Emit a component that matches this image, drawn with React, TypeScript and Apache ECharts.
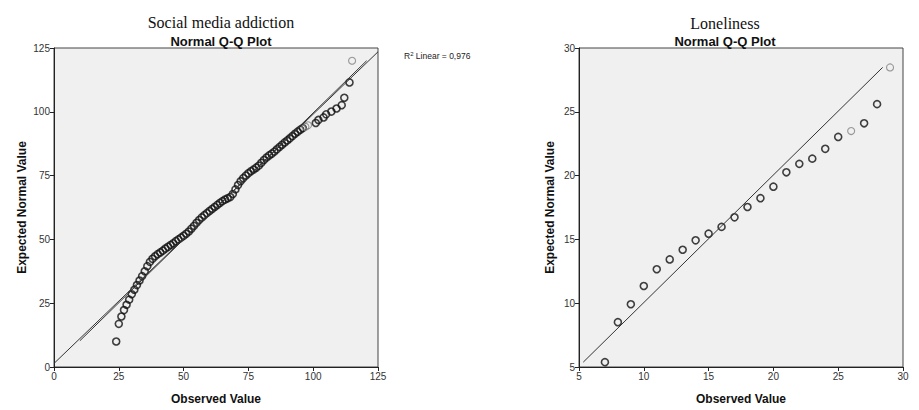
import React, { useEffect, useRef } from "react";
import * as echarts from "echarts";

// Social media addiction: observed values and expected normal values
const smaObserved = [24, 25, 26, 27, 28, 29, 30, 31, 32, 33, 34, 35, 36, 37, 38, 39, 40, 41, 42, 43, 44, 45, 46, 47, 48, 49, 50, 51, 52, 53, 54, 55, 56, 57, 58, 59, 60, 61, 62, 63, 64, 65, 66, 67, 68, 69, 70, 71, 72, 73, 74, 75, 76, 77, 78, 79, 80, 81, 82, 83, 84, 85, 86, 87, 88, 89, 90, 91, 92, 93, 94, 95, 96, 97, 98, 101, 102, 104, 105, 107, 109, 111, 112, 114, 115];
const smaExpected = [10.0, 16.9, 19.8, 22.3, 24.4, 26.4, 28.5, 30.3, 32.1, 33.9, 35.6, 37.5, 39.5, 41.2, 42.4, 43.4, 44.2, 44.9, 45.6, 46.4, 47.1, 47.8, 48.5, 49.3, 50.0, 50.7, 51.4, 52.2, 53.1, 54.2, 55.3, 56.5, 57.6, 58.6, 59.5, 60.3, 61.1, 61.9, 62.7, 63.5, 64.3, 65.0, 65.6, 66.1, 66.6, 67.8, 69.6, 71.3, 72.8, 74.0, 75.0, 75.9, 76.7, 77.4, 78.1, 78.9, 80.0, 81.1, 82.1, 82.9, 83.6, 84.4, 85.3, 86.2, 87.1, 88.0, 88.8, 89.6, 90.5, 91.4, 92.2, 93.0, 93.6, 94.1, 94.7, 95.6, 96.8, 97.8, 99.0, 100.1, 101.3, 102.6, 105.5, 111.5, 120.0];
const smaLightObserved = [97, 98, 115];
const smaRefLineX = [10, 120.6];
const smaRefLineY = [10.3, 120.0];
const smaFitLineX = [0, 125];
const smaFitLineY = [1.4, 123.5];

// Loneliness
const lonObserved = [7, 8, 9, 10, 11, 12, 13, 14, 15, 16, 17, 18, 19, 20, 21, 22, 23, 24, 25, 26, 27, 28, 29];
const lonExpected = [5.38, 8.51, 9.92, 11.35, 12.66, 13.43, 14.19, 14.93, 15.45, 15.98, 16.73, 17.54, 18.23, 19.13, 20.26, 20.92, 21.33, 22.1, 23.03, 23.49, 24.1, 25.6, 28.48];
const lonLightObserved = [26, 29];
const lonRefLineX = [5.33, 28.43];
const lonRefLineY = [5.38, 28.48];

const smaTicks = { min: 0, max: 125, interval: 25 };
const lonTicks = { min: 5, max: 30, interval: 5 };

const FONT = "Liberation Sans, Arial, sans-serif";

function points(xs: number[], ys: number[], light: number[]) {
  return xs.map((x, i) => ({
    value: [x, ys[i]],
    itemStyle: {
      color: "rgba(0,0,0,0)",
      borderColor: light.includes(x) ? "#808080" : "#111",
      borderWidth: light.includes(x) ? 1.1 : 1.6,
    },
  }));
}

function lineData(xs: number[], ys: number[]) {
  return xs.map((x, i) => [x, ys[i]]);
}

export default function App() {
  const ref = useRef<HTMLDivElement>(null);
  useEffect(() => {
    if (!ref.current) return;
    const chart = echarts.init(ref.current, undefined, { renderer: "svg" });
    const axisCommon = {
      type: "value" as const,
      nameLocation: "middle" as const,
      nameTextStyle: { fontFamily: FONT, fontWeight: "bold" as const, fontSize: 12, color: "#111" },
      axisLine: { show: true, lineStyle: { color: "#222", width: 1 } },
      axisTick: { show: true, inside: false, length: 4, lineStyle: { color: "#222" } },
      axisLabel: { fontFamily: FONT, fontSize: 10, color: "#333", margin: 4 },
      splitLine: { show: false },
    };
    chart.setOption({
      animation: false,
      backgroundColor: "#fff",
      title: [
        { text: "Social media addiction", left: 216, top: 9, textAlign: "center", textStyle: { fontFamily: "Liberation Serif, Times New Roman, serif", fontWeight: "normal", fontSize: 16, color: "#111" } },
        { text: "Normal Q-Q Plot", left: 216, top: 30, textAlign: "center", textStyle: { fontFamily: FONT, fontWeight: "bold", fontSize: 13, color: "#111" } },
        { text: "Loneliness", left: 720, top: 10, textAlign: "center", textStyle: { fontFamily: "Liberation Serif, Times New Roman, serif", fontWeight: "normal", fontSize: 16, color: "#111" } },
        { text: "Normal Q-Q Plot", left: 720, top: 30, textAlign: "center", textStyle: { fontFamily: FONT, fontWeight: "bold", fontSize: 13, color: "#111" } },
      ],
      graphic: [
        {
          type: "text",
          left: 404,
          top: 51,
          style: {
            text: "{a|R}{s|2}{a| Linear = 0,976}",
            rich: {
              a: { fontFamily: FONT, fontSize: 8.5, fill: "#222" },
              s: { fontFamily: FONT, fontSize: 6, fill: "#222", verticalAlign: "top", padding: [0, 0, 4, 0] },
            },
          },
        },
      ],
      grid: [
        { left: 54, top: 48, width: 324, height: 325, show: true, backgroundColor: "#f0f0f0", borderColor: "#444", borderWidth: 1 },
        { left: 579, top: 48, width: 324, height: 325, show: true, backgroundColor: "#f0f0f0", borderColor: "#444", borderWidth: 1 },
      ],
      xAxis: [
        { ...axisCommon, gridIndex: 0, ...smaTicks, name: "Observed Value", nameGap: 26 },
        { ...axisCommon, gridIndex: 1, ...lonTicks, name: "Observed Value", nameGap: 26 },
      ],
      yAxis: [
        { ...axisCommon, gridIndex: 0, ...smaTicks, name: "Expected Normal Value", nameGap: 26 },
        { ...axisCommon, gridIndex: 1, ...lonTicks, name: "Expected Normal Value", nameGap: 23 },
      ],
      series: [
        { type: "line", xAxisIndex: 0, yAxisIndex: 0, data: lineData(smaFitLineX, smaFitLineY), symbol: "none", lineStyle: { color: "#333", width: 1 }, silent: true },
        { type: "line", xAxisIndex: 0, yAxisIndex: 0, data: lineData(smaRefLineX, smaRefLineY), symbol: "none", lineStyle: { color: "#333", width: 1 }, silent: true },
        { type: "scatter", xAxisIndex: 0, yAxisIndex: 0, data: points(smaObserved, smaExpected, smaLightObserved), symbol: "circle", symbolSize: 7 },
        { type: "line", xAxisIndex: 1, yAxisIndex: 1, data: lineData(lonRefLineX, lonRefLineY), symbol: "none", lineStyle: { color: "#333", width: 1 }, silent: true },
        { type: "scatter", xAxisIndex: 1, yAxisIndex: 1, data: points(lonObserved, lonExpected, lonLightObserved), symbol: "circle", symbolSize: 7 },
      ],
    });
    return () => chart.dispose();
  }, []);
  return <div ref={ref} style={{ width: 919, height: 410, position: "absolute", left: 0, top: 0 }} />;
}
